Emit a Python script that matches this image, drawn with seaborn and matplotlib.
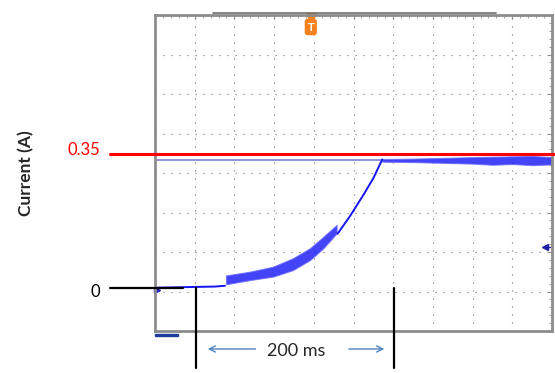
import numpy as np
import pandas as pd
import seaborn as sns
import matplotlib.pyplot as plt
from matplotlib.transforms import blended_transform_factory

# --- values (time in ms, current in A) ---
flat_t = [0, 20, 40, 60, 70.5]
flat_i = [0.001, 0.002, 0.003, 0.004, 0.006]

ramp_t = [71.5, 95.7, 119, 139, 156, 169.6, 183]
ramp_lo = [0.010, 0.021, 0.030, 0.047, 0.073, 0.104, 0.143]
ramp_hi = [0.033, 0.043, 0.056, 0.078, 0.104, 0.134, 0.165]

rise_t = [184, 196.5, 209.9, 220, 229]
rise_i = [0.142, 0.188, 0.243, 0.287, 0.336]

plat_t = [229, 260, 290, 320, 340, 360, 380, 400]
plat_lo = [0.330, 0.329, 0.327, 0.325, 0.322, 0.324, 0.321, 0.323]
plat_hi = [0.337, 0.338, 0.340, 0.342, 0.343, 0.344, 0.345, 0.342]

ghost_t = [0, 229]
ghost_i = [0.334, 0.334]

limit_level = 0.35
cursor_t = [41, 241]
span_label = "200 ms"

plt.rcParams["figure.dpi"] = 100
sns.set_style("white")
plt.rcParams["font.family"] = ["Lato", "DejaVu Sans"]

fig = plt.figure(figsize=(5.55, 3.73), dpi=100)
ax = fig.add_axes([155 / 555, 42 / 373, 397 / 555, 316 / 373])

ylo, yhi = -0.112, 0.713
ax.set_xlim(0, 400)
ax.set_ylim(ylo, yhi)
ax.set_xticks(np.arange(0, 401, 40))
ax.set_xticks(np.arange(0, 401, 8), minor=True)
ax.set_yticks(np.linspace(ylo, yhi, 9))
ax.set_yticks(np.linspace(ylo, yhi, 41), minor=True)
ax.tick_params(which="both", direction="in", top=True, right=True,
               labelbottom=False, labelleft=False, color="#8c8c8c")
ax.tick_params(which="major", length=3, width=0.8)
ax.tick_params(which="minor", length=2, width=0.6)
ax.grid(True, which="major", color="#7a7a7a", lw=0.9, linestyle=(0, (0.9, 5.5)))
for s in ax.spines.values():
    s.set_color("#8c8c8c")
    s.set_linewidth(2)
ax.set_xlabel("")
ax.set_ylabel("")

blue = "#1414f5"
# ghost reference line
sns.lineplot(x=ghost_t, y=ghost_i, ax=ax, color="#8a8ad8", lw=1.3, sort=False)
# signal
sns.lineplot(x=flat_t, y=flat_i, ax=ax, color=blue, lw=1.4, sort=False)
ax.fill_between(ramp_t, ramp_lo, ramp_hi, color=blue, lw=0.8, ec="#6a6aff", alpha=0.8)
sns.lineplot(x=rise_t, y=rise_i, ax=ax, color=blue, lw=1.4, sort=False)
ax.fill_between(plat_t, plat_lo, plat_hi, color=blue, lw=0.8, ec="#6a6aff", alpha=0.8)

trans = blended_transform_factory(ax.transAxes, ax.transData)
# red limit line and label
ax.plot([-0.113, 1.0076], [limit_level] * 2, transform=trans, color="#ff0000",
        lw=2.2, clip_on=False, zorder=6)
ax.text(-0.1385, 0.360, "0.35", transform=trans, color="#ff0000", fontsize=12,
        ha="right", va="center")
# zero line and label
ax.plot([-0.113, 0.0705], [0, 0], transform=trans, color="black", lw=1.6,
        clip_on=False, zorder=6)
ax.text(-0.1385, -0.0104, "0", transform=trans, color="black", fontsize=12,
        ha="right", va="center")

# time cursors
for t in cursor_t:
    ax.plot([t, t], [0, -0.209], color="black", lw=1.6, clip_on=False, zorder=6)
arrow = dict(arrowstyle="->", color="#4f81bd", lw=1, mutation_scale=11)
ax.annotate("", xy=(50.4, -0.159), xytext=(104, -0.159), arrowprops=arrow,
            annotation_clip=False)
ax.annotate("", xy=(233.8, -0.159), xytext=(192.4, -0.159), arrowprops=arrow,
            annotation_clip=False)
ax.text(142, -0.163, span_label, fontsize=13, ha="center", va="center")

# scope markers
tx = blended_transform_factory(ax.transData, ax.transAxes)
ax.plot([157], [0.992], marker="v", ms=7, color="#f5821f", transform=tx, clip_on=False)
ax.text(157, 0.962, "T", transform=tx, ha="center", va="center", color="white",
        fontsize=8, fontweight="bold",
        bbox=dict(boxstyle="round,pad=0.25", fc="#f5821f", ec="none"))
ax.plot([0.004], [-0.005], marker=">", ms=4, color="#2020c0", transform=trans,
        clip_on=False)
ax.plot([0.982], [0.107], marker="<", ms=5, color="#2020a0", transform=trans,
        clip_on=False)
ax.plot([0.982, 0.995], [0.107, 0.107], color="#2020a0", lw=1, transform=trans)
ax.plot([0.145, 0.86], [1.006, 1.006], transform=ax.transAxes, color="#6e6e6e",
        lw=1.2, clip_on=False)
ax.add_patch(plt.Rectangle((0.0, -0.017), 0.058, 0.009, transform=ax.transAxes,
                           color="#1f3fa0", clip_on=False))

fig.text(26 / 555, 1 - 173 / 373, "Current (A)", rotation=90, fontsize=12.5,
         fontweight="bold", ha="center", va="center")

fig.savefig("out.png", dpi=100)
